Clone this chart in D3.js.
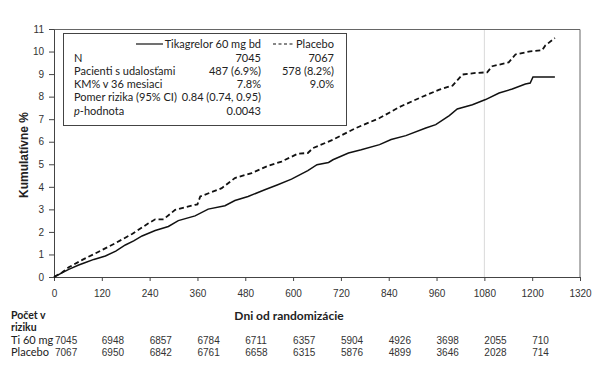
<!DOCTYPE html>
<html>
<head>
<meta charset="utf-8">
<script src="https://cdn.jsdelivr.net/npm/d3@7"></script>
<style>
  body { margin: 0; background: #fff; }
  svg { display: block; }
</style>
</head>
<body>
<svg id="chart" width="603" height="387"></svg>
<script>
// Kaplan-Meier curves: [day, cumulative %]
const tikaCurve = [[0,0],[20,0.18],[37,0.34],[62,0.53],[79,0.64],[100,0.78],[129,0.93],[155,1.15],[179,1.42],[200,1.6],[221,1.82],[254,2.06],[287,2.24],[312,2.5],[354,2.71],[387,3.01],[429,3.16],[454,3.39],[487,3.57],[529,3.87],[560,4.08],[596,4.34],[637,4.72],[660,4.98],[689,5.08],[700,5.2],[739,5.5],[771,5.64],[817,5.87],[846,6.1],[883,6.27],[933,6.61],[958,6.76],[992,7.16],[1012,7.45],[1050,7.64],[1083,7.87],[1117,8.16],[1150,8.34],[1183,8.56],[1195,8.6],[1202,8.87],[1257,8.87]];
const placeboCurve = [[0,0],[20,0.2],[37,0.43],[71,0.76],[112,1.12],[154,1.5],[196,1.91],[237,2.38],[254,2.56],[275,2.56],[304,2.98],[354,3.2],[360,3.22],[367,3.57],[421,3.94],[454,4.39],[496,4.61],[537,4.93],[571,5.12],[612,5.47],[637,5.5],[650,5.72],[700,6.09],[758,6.61],[817,7.05],[867,7.54],[917,7.94],[967,8.31],[1000,8.49],[1025,8.98],[1058,9.05],[1087,9.08],[1100,9.35],[1141,9.52],[1158,9.87],[1195,10.01],[1225,10.06],[1233,10.27],[1257,10.6]];

const xTicks = [0,120,240,360,480,600,720,840,960,1080,1200,1320];
const yTicks = [0,1,2,3,4,5,6,7,8,9,10,11];
const refDay = 1080;

const riskDays = [0,120,240,360,480,600,720,840,960,1080,1200];
const riskTika = [7045,6948,6857,6784,6711,6357,5904,4926,3698,2055,710];
const riskPlacebo = [7067,6950,6842,6761,6658,6315,5876,4899,3646,2028,714];

const legendRows = ["N","Pacienti s udalosťami","KM% v 36 mesiaci","Pomer rizika (95% CI)","p-hodnota"];
const legendTika = ["7045","487 (6.9%)","7.8%","0.84 (0.74, 0.95)","0.0043"];
const legendPlacebo = ["7067","578 (8.2%)","9.0%","",""];

const margin = { top: 29, right: 23, bottom: 110, left: 54 },
    width = 603 - margin.left - margin.right,
    height = 387 - margin.top - margin.bottom;

const svg = d3.select("#chart");
const g = svg.append("g")
    .attr("transform", "translate(" + margin.left + "," + margin.top + ")");

const x = d3.scaleLinear().domain([0, 1320]).range([0, width]);
const y = d3.scaleLinear().domain([0, 11]).range([height, 0]);

const calibri = "Lato, 'Open Sans', sans-serif";
const arial = "'Liberation Sans', Arial, sans-serif";

// reference line at 36 months
g.append("line")
    .attr("x1", x(refDay)).attr("x2", x(refDay))
    .attr("y1", 0).attr("y2", height)
    .attr("stroke", "#d9d9d9").attr("stroke-width", 1);

// frame top/right
g.append("path")
    .attr("d", "M0,0.5H" + x(1320) + "V" + height)
    .attr("fill", "none").attr("stroke", "#666").attr("stroke-width", 1);

// axes
const xAxis = g.append("g")
    .attr("transform", "translate(0," + height + ")")
    .call(d3.axisBottom(x).tickValues(xTicks).tickFormat(d3.format("d")).tickSize(4).tickSizeOuter(0));
const yAxis = g.append("g")
    .call(d3.axisLeft(y).tickValues(yTicks).tickFormat(d3.format("d")).tickSize(5).tickSizeOuter(0));
[xAxis, yAxis].forEach(a => {
    a.select(".domain").attr("stroke", "#444");
    a.selectAll(".tick line").attr("stroke", "#444");
    a.selectAll("text").attr("font-family", arial).attr("font-size", 10).attr("fill", "#333");
});
xAxis.selectAll("text").attr("dy", "1.3em");
yAxis.selectAll("text").attr("x", -10);

// curves
const line = d3.line().x(d => x(d[0])).y(d => y(d[1]));
g.append("path").datum(placeboCurve)
    .attr("d", line).attr("fill", "none")
    .attr("stroke", "#111").attr("stroke-width", 1.8)
    .attr("stroke-dasharray", "5,3");
g.append("path").datum(tikaCurve)
    .attr("d", line).attr("fill", "none")
    .attr("stroke", "#111").attr("stroke-width", 1.5);

// axis titles
svg.append("text")
    .attr("transform", "translate(28," + (margin.top + height / 2 + 2) + ") rotate(-90)")
    .attr("text-anchor", "middle")
    .attr("font-family", arial).attr("font-weight", "bold").attr("font-size", 12)
    .attr("fill", "#222")
    .text("Kumulatívne %");
svg.append("text")
    .attr("x", 289).attr("y", 320)
    .attr("text-anchor", "middle")
    .attr("font-family", calibri).attr("font-weight", "bold").attr("font-size", 12)
    .attr("fill", "#222")
    .text("Dni od randomizácie");

// legend box
const lg = svg.append("g");
lg.append("rect")
    .attr("x", 63.5).attr("y", 33.5).attr("width", 283).attr("height", 92)
    .attr("fill", "#fff").attr("stroke", "#444").attr("stroke-width", 1);
lg.append("line").attr("x1", 136).attr("x2", 163).attr("y1", 44).attr("y2", 44)
    .attr("stroke", "#111").attr("stroke-width", 1.2);
lg.append("line").attr("x1", 273).attr("x2", 294).attr("y1", 44).attr("y2", 44)
    .attr("stroke", "#111").attr("stroke-width", 1.2).attr("stroke-dasharray", "3,2.5");
lg.append("text").attr("x", 261).attr("y", 48).attr("text-anchor", "end")
    .attr("font-family", calibri).attr("font-size", 11).attr("fill", "#222")
    .text("Tikagrelor 60 mg bd");
lg.append("text").attr("x", 334).attr("y", 48).attr("text-anchor", "end")
    .attr("font-family", calibri).attr("font-size", 11).attr("fill", "#222")
    .text("Placebo");

const rowY = i => 61.5 + i * 13.3;
lg.selectAll(".lrow").data(legendRows).enter().append("text")
    .attr("x", 74).attr("y", (d, i) => rowY(i))
    .attr("font-family", calibri).attr("font-size", 11).attr("fill", "#222")
    .each(function (d) {
        const t = d3.select(this);
        if (d.startsWith("p-")) {
            t.append("tspan").attr("font-style", "italic").text("p");
            t.append("tspan").text(d.slice(1));
        } else {
            t.text(d);
        }
    });
lg.selectAll(".ltika").data(legendTika).enter().append("text")
    .attr("x", 261).attr("y", (d, i) => rowY(i)).attr("text-anchor", "end")
    .attr("font-family", calibri).attr("font-size", 11).attr("fill", "#222")
    .text(d => d);
lg.selectAll(".lplac").data(legendPlacebo).enter().append("text")
    .attr("x", 334).attr("y", (d, i) => rowY(i)).attr("text-anchor", "end")
    .attr("font-family", calibri).attr("font-size", 11).attr("fill", "#222")
    .text(d => d);

// number at risk table
svg.append("text").attr("x", 11).attr("y", 319)
    .attr("font-family", calibri).attr("font-weight", "bold").attr("font-size", 10.5).attr("fill", "#222")
    .text("Počet v");
svg.append("text").attr("x", 11).attr("y", 331)
    .attr("font-family", calibri).attr("font-weight", "bold").attr("font-size", 10.5).attr("fill", "#222")
    .text("riziku");
const riskRows = [["Ti 60 mg", riskTika, 344], ["Placebo", riskPlacebo, 356]];
riskRows.forEach(r => {
    svg.append("text").attr("x", 11).attr("y", r[2])
        .attr("font-family", calibri).attr("font-size", 11).attr("fill", "#222")
        .text(r[0]);
    svg.selectAll(null).data(r[1]).enter().append("text")
        .attr("x", (d, i) => margin.left + x(riskDays[i]) + (i === 0 ? 1 : 0))
        .attr("y", r[2])
        .attr("font-family", arial).attr("font-size", 10).attr("fill", "#333")
        .text(d => d);
});
</script>
</body>
</html>
